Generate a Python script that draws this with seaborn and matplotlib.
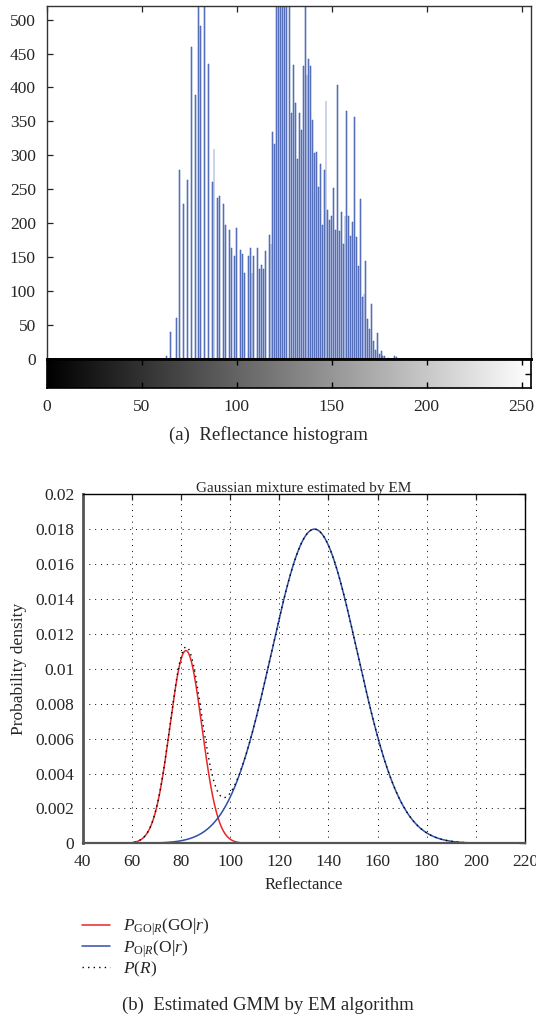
import numpy as np
import pandas as pd
import matplotlib
matplotlib.use("Agg")
import matplotlib.pyplot as plt
import seaborn as sns

# ---------------- data: reflectance histogram ----------------
hist_levels = [63, 65, 68, 70, 72, 74, 76, 78, 80, 81, 83, 85, 87, 88, 90, 91,
               93, 94, 96, 97, 99, 100, 102, 103, 104, 106, 107, 108, 109,
               111, 112, 113, 114, 115, 117, 118, 119, 120,
               121, 122, 123, 124, 125, 126, 128, 129, 130, 131, 132, 133,
               134, 135, 136, 137, 138, 139, 140, 141, 142, 143, 144, 145,
               146, 147, 148, 149, 150, 151, 152, 153, 154, 155, 156, 157,
               158, 159, 160, 161, 162, 163, 164, 165, 166, 167, 168, 169,
               170, 171, 172, 173, 174, 175, 176, 177, 178, 180, 183, 184]
hist_counts = [4, 40, 60, 278, 228, 264, 459, 389, 560, 490, 600, 434, 261, 310, 237, 240,
               228, 197, 190, 163, 151, 193, 161, 155, 127, 152, 163, 127, 151,
               163, 132, 138, 133, 159, 183, 170, 335, 317,
               560, 620, 680, 700, 650, 590, 560, 363, 433, 377, 295, 362,
               337, 431, 545, 419, 442, 431, 352, 303, 305, 253, 287, 197,
               279, 380, 219, 205, 210, 252, 190, 403, 188, 216, 170, 210,
               365, 211, 181, 202, 356, 180, 137, 236, 92, 96, 144, 59,
               44, 81, 26, 13, 38, 7, 12, 4, 5, 2, 4, 3]
hist_xticks = [0, 50, 100, 150, 200, 250]
hist_yticks = [0, 50, 100, 150, 200, 250, 300, 350, 400, 450, 500]
gray_levels = list(range(256))

# ---------------- data: Gaussian mixture (EM estimate) ----------------
gmm_labels = [r"$P_{\mathrm{GO}|R}(\mathrm{GO}|r)$", r"$P_{\mathrm{O}|R}(\mathrm{O}|r)$", r"$P(R)$"]
gmm_means = [82.0, 134.3]
gmm_sigmas = [6.5, 17.5]
gmm_weights = [0.18, 0.79]
gmm_range = [52, 204]
gmm_xticks = [40, 60, 80, 100, 120, 140, 160, 180, 200, 220]
gmm_yticks = [0, 0.002, 0.004, 0.006, 0.008, 0.01, 0.012, 0.014, 0.016, 0.018, 0.02]
gmm_yticklabels = ["0", "0.002", "0.004", "0.006", "0.008", "0.01", "0.012",
                   "0.014", "0.016", "0.018", "0.02"]

# ---------------- style ----------------
sns.set_theme(style="white")
plt.rcParams["font.family"] = ["Liberation Serif", "DejaVu Serif"]
plt.rcParams["mathtext.fontset"] = "custom"
plt.rcParams["mathtext.rm"] = "Liberation Serif"
plt.rcParams["mathtext.it"] = "Liberation Serif:italic"
plt.rcParams["mathtext.bf"] = "Liberation Serif:bold"

W, H = 536, 1017
fig = plt.figure(figsize=(W / 100, H / 100), dpi=100)


def rect(l, t, r, b):
    return [l / W, 1 - b / H, (r - l) / W, (b - t) / H]


# ---------- panel (a): histogram ----------
ax1 = fig.add_axes(rect(47, 6, 531, 359))
hist_df = pd.DataFrame({"level": hist_levels, "count": hist_counts})
sns.histplot(data=hist_df, x="level", weights="count", discrete=True, shrink=0.48,
             color="#7d92cf", edgecolor="#2c4aa6", linewidth=0.35, alpha=1.0, ax=ax1)
ax1.set_xlim(0, 255)
ax1.set_ylim(0, 520)
ax1.set_xticks(hist_xticks)
ax1.set_xticklabels([])
ax1.set_yticks(hist_yticks)
ax1.set_yticklabels([str(v) for v in hist_yticks], fontsize=12.5)
ax1.set_xlabel("")
ax1.set_ylabel("")
ax1.tick_params(axis="both", direction="in", length=4, width=0.9, color="#222222",
                top=True, bottom=False, left=True, right=False, pad=8)
for s in ["left", "right", "top"]:
    ax1.spines[s].set_linewidth(1.0)
    ax1.spines[s].set_color("#333333")
ax1.spines["bottom"].set_linewidth(2.0)
ax1.spines["bottom"].set_color("black")

# gray-level bar
axg = fig.add_axes(rect(47, 359, 531, 388))
axg.imshow(np.array(gray_levels)[None, :], cmap="gray", vmin=0, vmax=255, aspect="auto",
           extent=[-0.5, 255.5, 0, 1], interpolation="bilinear")
axg.set_xlim(0, 255)
axg.set_ylim(0, 1)
axg.set_xticks(hist_xticks)
axg.set_xticklabels([str(v) for v in hist_xticks], fontsize=12.5)
axg.set_yticks([0.5])
axg.set_yticklabels([])
axg.tick_params(axis="x", direction="in", length=4, width=1.0, color="black",
                top=True, bottom=True, pad=8)
axg.tick_params(axis="y", direction="in", length=4, width=1.0, color="black",
                left=False, right=True)
for s in axg.spines.values():
    s.set_linewidth(1.2)
    s.set_color("black")
axg.spines["top"].set_linewidth(2.0)

fig.text(268 / W, 1 - 435 / H, "(a)  Reflectance histogram", ha="center", va="center",
         fontsize=13.5)

# ---------- panel (b): GMM ----------
ax2 = fig.add_axes(rect(82.7, 494.4, 525, 843.3))
r = np.linspace(gmm_range[0], gmm_range[1], 800)
comps = []
for m, s, w in zip(gmm_means, gmm_sigmas, gmm_weights):
    comps.append(w * np.exp(-0.5 * ((r - m) / s) ** 2) / (s * np.sqrt(2 * np.pi)))
total = comps[0] + comps[1]

sns.lineplot(x=r, y=comps[0], color="#e8262a", linewidth=1.1, label=gmm_labels[0], ax=ax2)
sns.lineplot(x=r, y=comps[1], color="#2f4fa8", linewidth=1.1, label=gmm_labels[1], ax=ax2)
sns.lineplot(x=r, y=total, color="black", linewidth=1.0, linestyle=(0, (1, 3)),
             label=gmm_labels[2], ax=ax2)

ax2.set_xlim(40, 220)
ax2.set_ylim(0, 0.02)
ax2.set_xticks(gmm_xticks)
ax2.set_xticklabels([str(v) for v in gmm_xticks], fontsize=12.5)
ax2.set_yticks(gmm_yticks)
ax2.set_yticklabels(gmm_yticklabels, fontsize=12.5)
ax2.grid(True, color="black", linestyle=(0, (1, 5)), linewidth=0.7)
ax2.tick_params(axis="both", direction="in", length=4, width=0.9, color="#222222",
                top=True, right=True, pad=6)
ax2.tick_params(axis="x", pad=8)
for sname, s in ax2.spines.items():
    s.set_linewidth(1.0)
    s.set_color("black")
ax2.spines["left"].set_linewidth(2.0)
ax2.spines["left"].set_color("#555555")
ax2.spines["bottom"].set_linewidth(1.6)
ax2.spines["bottom"].set_color("#555555")
ax2.set_title("Gaussian mixture estimated by EM", fontsize=11, pad=2)
ax2.set_xlabel("Reflectance", fontsize=12, labelpad=5)
ax2.set_ylabel("Probability density", fontsize=12.5, labelpad=6)

leg = ax2.legend(loc="upper left", bbox_to_anchor=(-0.018, -0.19), frameon=False,
                 fontsize=12.5, handlelength=1.65, handletextpad=0.75, labelspacing=0.0,
                 borderaxespad=0)

fig.text(268 / W, 1 - 1005 / H, "(b)  Estimated GMM by EM algorithm", ha="center",
         va="center", fontsize=13.5)

fig.savefig("out.png", dpi=100)
